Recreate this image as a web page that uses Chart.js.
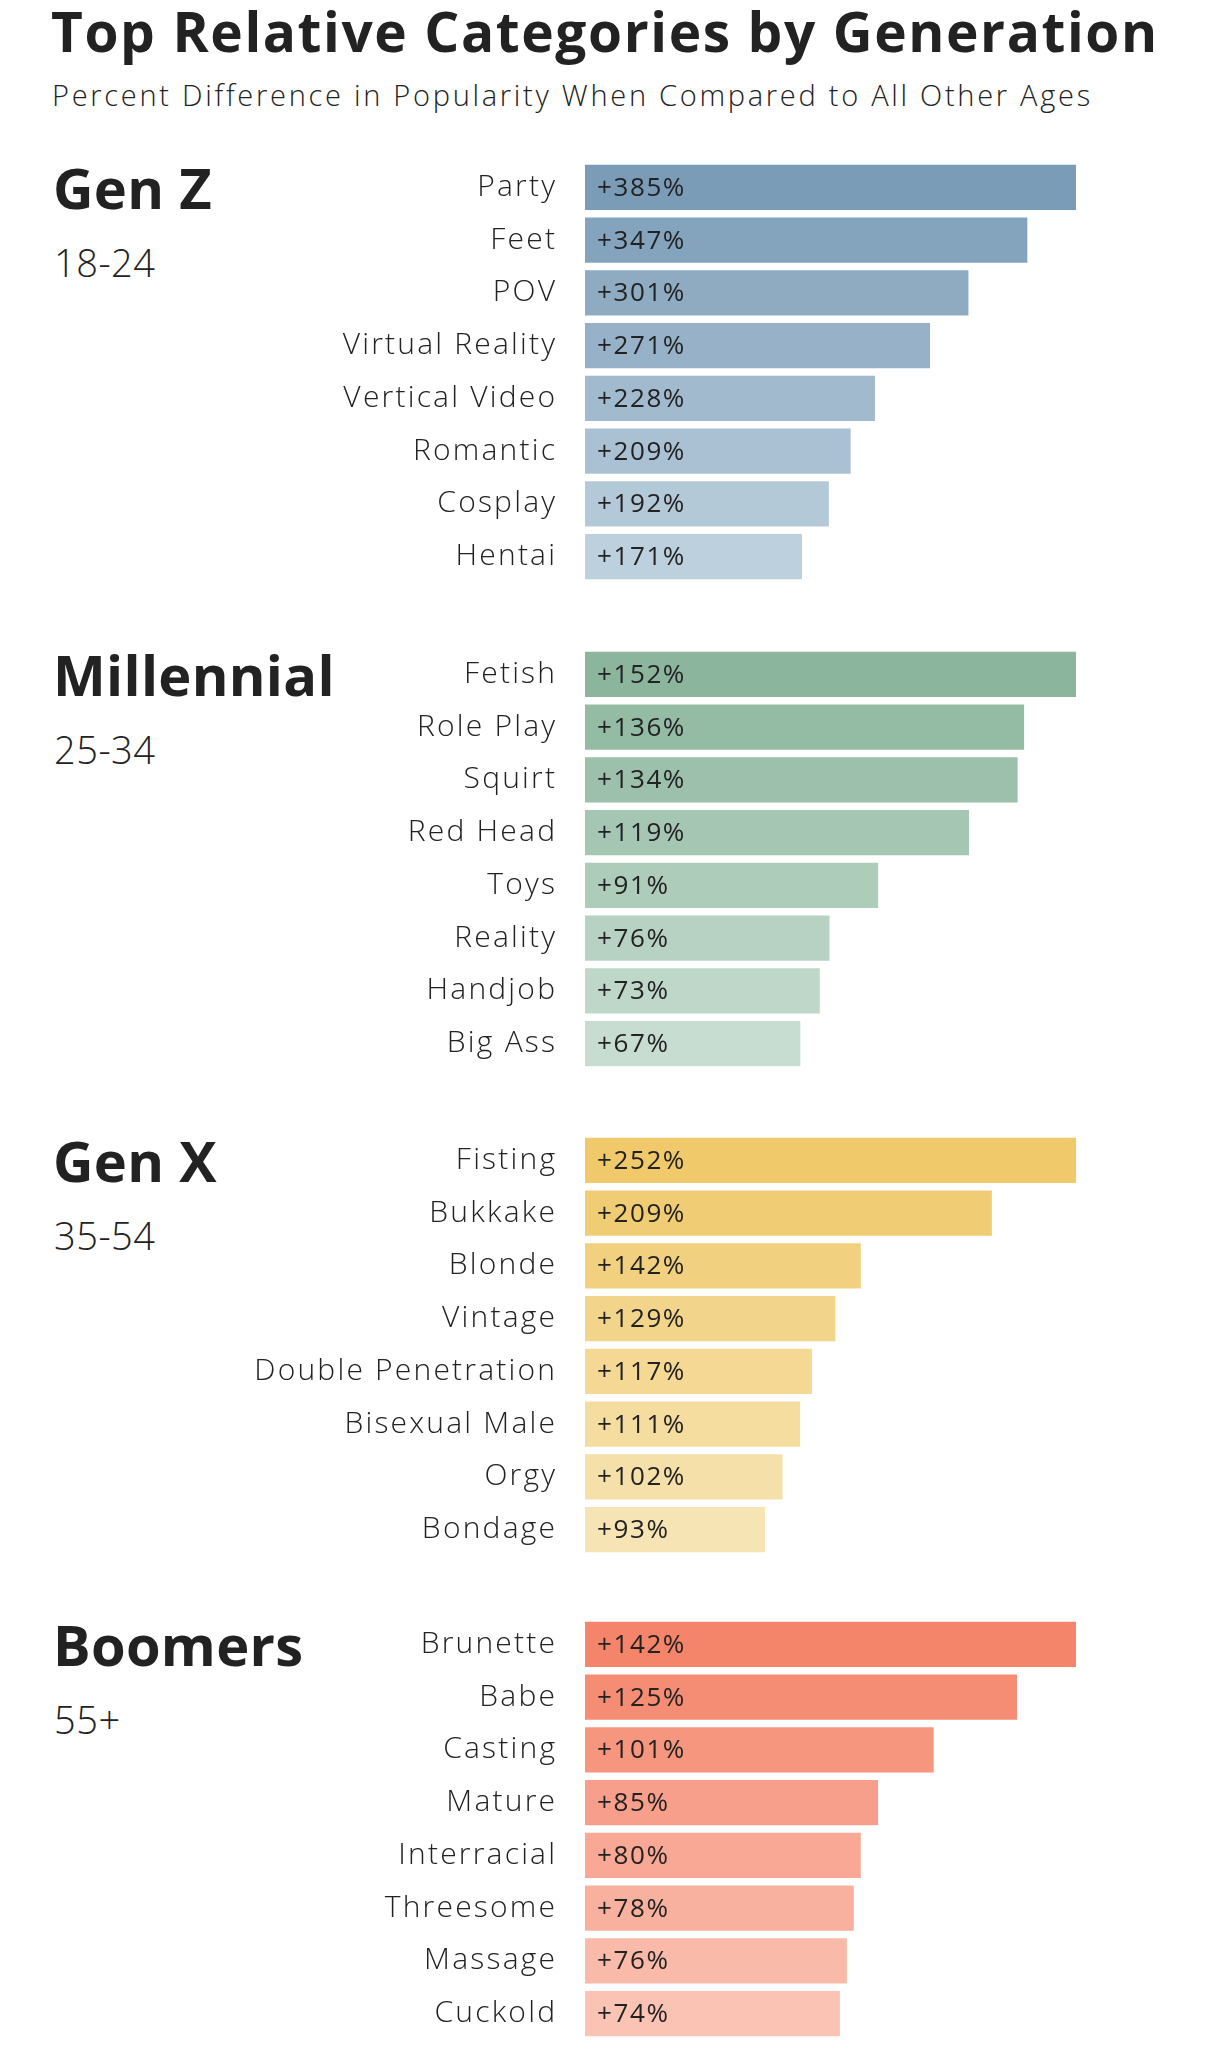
<!DOCTYPE html>
<html>
<head>
<meta charset="utf-8">
<script src="https://cdn.jsdelivr.net/npm/chart.js@4/dist/chart.umd.min.js"></script>
<style>
  html, body { margin: 0; padding: 0; background: #ffffff; }
  #wrap { position: relative; width: 1205px; height: 2048px; overflow: hidden; background: #fff; font-family: "Open Sans", sans-serif; color: #222; }
  .t { position: absolute; white-space: nowrap; line-height: 1; }
  canvas { position: absolute; left: 0; }
</style>
</head>
<body>
<div id="wrap">
  <div class="t" id="title" style="left:51px; top:3px; font-size:55px; font-weight:700; letter-spacing:1.6px;">Top Relative Categories by Generation</div>
  <div class="t" id="subtitle" style="left:52px; top:80px; font-size:29px; font-weight:300; letter-spacing:2.72px;">Percent Difference in Popularity When Compared to All Other Ages</div>
</div>
<script>
// ---- data ----
const groupNames = ['Gen Z', 'Millennial', 'Gen X', 'Boomers'];
const groupAges = ['18-24', '25-34', '35-54', '55+'];

const genZLabels = ['Party', 'Feet', 'POV', 'Virtual Reality', 'Vertical Video', 'Romantic', 'Cosplay', 'Hentai'];
const genZValues = [385, 347, 301, 271, 228, 209, 192, 171];

const millennialLabels = ['Fetish', 'Role Play', 'Squirt', 'Red Head', 'Toys', 'Reality', 'Handjob', 'Big Ass'];
const millennialValues = [152, 136, 134, 119, 91, 76, 73, 67];

const genXLabels = ['Fisting', 'Bukkake', 'Blonde', 'Vintage', 'Double Penetration', 'Bisexual Male', 'Orgy', 'Bondage'];
const genXValues = [252, 209, 142, 129, 117, 111, 102, 93];

const boomersLabels = ['Brunette', 'Babe', 'Casting', 'Mature', 'Interracial', 'Threesome', 'Massage', 'Cuckold'];
const boomersValues = [142, 125, 101, 85, 80, 78, 76, 74];

// ---- styles ----
const palettes = [
  ['#7b9cb7', '#bdd0de'],
  ['#8bb59c', '#c8ddd1'],
  ['#efc96a', '#f7e4b4'],
  ['#f4846a', '#fbc3b4']
];
const groupTops = [164, 651, 1137, 1621];   // top edge of first bar in each group
const BAND = 52.8;
const BAR_LEFT = 584;
const BAR_RIGHT = 1077;
const LABEL_SPACING = 2.2;

function hexToRgb(h) { h = h.replace('#', ''); return [0, 2, 4].map(i => parseInt(h.substr(i, 2), 16)); }
function shades(a, b, n) {
  const A = hexToRgb(a), B = hexToRgb(b);
  const out = [];
  for (let i = 0; i < n; i++) {
    const t = n > 1 ? i / (n - 1) : 0;
    out.push('rgb(' + A.map((v, k) => Math.round(v + (B[k] - v) * t)).join(',') + ')');
  }
  return out;
}

const spacingPlugin = {
  id: 'labelSpacing',
  beforeDraw(chart) { chart.ctx.letterSpacing = LABEL_SPACING + 'px'; }
};

const valueLabelPlugin = {
  id: 'valueLabels',
  afterDatasetsDraw(chart) {
    const ctx = chart.ctx;
    const meta = chart.getDatasetMeta(0);
    const data = chart.data.datasets[0].data;
    ctx.save();
    ctx.letterSpacing = '1.6px';
    ctx.font = '400 26px "Open Sans", sans-serif';
    ctx.fillStyle = '#222';
    ctx.textAlign = 'left';
    ctx.textBaseline = 'middle';
    meta.data.forEach((bar, i) => {
      ctx.fillText('+' + data[i] + '%', bar.base + 13, bar.y + 1);
    });
    ctx.restore();
  }
};

const groups = [
  [genZLabels, genZValues],
  [millennialLabels, millennialValues],
  [genXLabels, genXValues],
  [boomersLabels, boomersValues]
];

const wrap = document.getElementById('wrap');
groups.forEach(([labels, values], g) => {
  const top = groupTops[g];
  // headings
  const h = document.createElement('div');
  h.className = 't';
  h.style.cssText = 'left:53px; top:' + (top - 5) + 'px; font-size:56px; font-weight:700; letter-spacing:0.3px;';
  h.textContent = groupNames[g];
  wrap.appendChild(h);
  const a = document.createElement('div');
  a.className = 't';
  a.style.cssText = 'left:54px; top:' + (top + 79) + 'px; font-size:38px; font-weight:300; letter-spacing:0.5px;';
  a.textContent = groupAges[g];
  wrap.appendChild(a);

  const cv = document.createElement('canvas');
  const n = labels.length;
  const height = Math.round(BAND * n);
  const gap = (BAND - BAND * 0.9) / 2;
  cv.width = BAR_RIGHT;
  cv.height = height;
  cv.style.width = BAR_RIGHT + 'px';
  cv.style.height = height + 'px';
  cv.style.top = (top - gap) + 'px';
  wrap.appendChild(cv);

  const cols = shades(palettes[g][0], palettes[g][1], n);
  new Chart(cv.getContext('2d'), {
    type: 'bar',
    data: {
      labels: labels,
      datasets: [{
        data: values,
        backgroundColor: cols,
        borderColor: 'rgba(255,255,255,0.35)',
        borderWidth: 1,
        borderSkipped: false,
        barPercentage: 0.9,
        categoryPercentage: 1.0
      }]
    },
    options: {
      indexAxis: 'y',
      responsive: false,
      animation: false,
      devicePixelRatio: 1,
      layout: { padding: 0 },
      plugins: { legend: { display: false }, tooltip: { enabled: false }, title: { display: false } },
      scales: {
        x: { display: false, min: 0, max: Math.max(...values) },
        y: {
          grid: { display: false, drawTicks: false },
          border: { display: false },
          ticks: {
            color: '#222',
            padding: 29 - LABEL_SPACING,
            font: { family: '"Open Sans", sans-serif', size: 30, weight: 300 }
          },
          afterFit(scale) {
            scale.width = BAR_LEFT;
            scale.paddingTop = 0;
            scale.paddingBottom = 0;
          }
        }
      }
    },
    plugins: [spacingPlugin, valueLabelPlugin]
  });
});
</script>
</body>
</html>
